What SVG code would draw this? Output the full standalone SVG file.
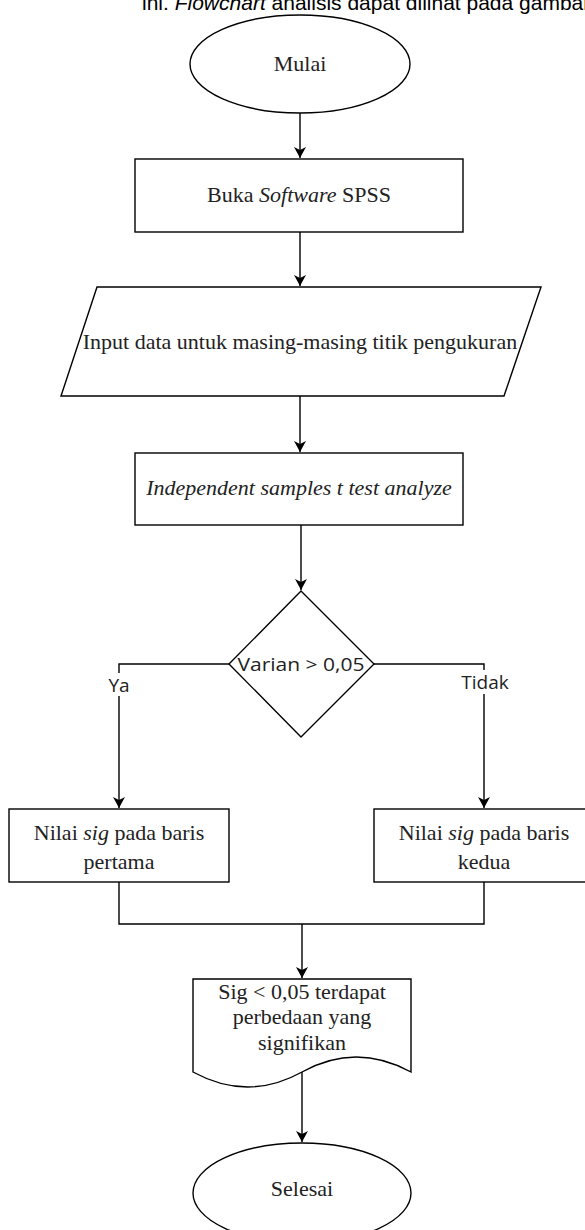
<svg xmlns="http://www.w3.org/2000/svg" width="585" height="1230" viewBox="0 0 585 1230">
<style>
.sh{fill:#fff;stroke:#000;stroke-width:1.4}
.ln{fill:none;stroke:#000;stroke-width:1.4}
.t{font-family:"Liberation Serif","Times New Roman",serif;font-size:22px;fill:#222;text-anchor:middle}
.s{font-family:"Open Sans","Noto Sans",sans-serif;font-size:19px;fill:#222;text-anchor:middle}
.top{font-family:"Liberation Sans",Arial,sans-serif;font-size:21px;fill:#000}
</style>
<defs>
<marker id="ah" markerUnits="userSpaceOnUse" markerWidth="12" markerHeight="12" refX="11" refY="6" orient="auto">
<path d="M0,0 L11,6 L0,12 L3,6 z" fill="#000"/>
</marker>
</defs>
<text class="top" x="142" y="10">ini. <tspan font-style="italic">Flowchart</tspan> analisis dapat dilihat pada gambar</text>
<g id="connectors">
<line class="ln" x1="300" y1="112" x2="300" y2="158" marker-end="url(#ah)"/>
<line class="ln" x1="300" y1="232" x2="300" y2="286" marker-end="url(#ah)"/>
<line class="ln" x1="300" y1="396" x2="300" y2="452" marker-end="url(#ah)"/>
<line class="ln" x1="301" y1="525" x2="301" y2="590" marker-end="url(#ah)"/>
<polyline class="ln" points="229,664 119,664 119,808" marker-end="url(#ah)"/>
<polyline class="ln" points="374,664 484,664 484,808" marker-end="url(#ah)"/>
<polyline class="ln" points="119,882 119,924 484,924 484,882"/>
<line class="ln" x1="302" y1="924" x2="302" y2="978" marker-end="url(#ah)"/>
<line class="ln" x1="302" y1="1072" x2="302" y2="1142" marker-end="url(#ah)"/>
<rect x="104" y="673" width="30" height="23" fill="#fff"/>
<text class="s" x="119" y="692">Ya</text>
<rect x="460" y="670" width="50" height="24" fill="#fff"/>
<text class="s" x="485" y="689">Tidak</text>
</g>
<g id="mulai">
<ellipse class="sh" cx="300" cy="64" rx="110" ry="49"/>
<text class="t" x="300" y="71">Mulai</text>
</g>
<g id="buka">
<rect class="sh" x="135" y="159" width="328" height="73"/>
<text class="t" x="299" y="202">Buka <tspan font-style="italic">Software</tspan> SPSS</text>
</g>
<g id="input">
<polygon class="sh" points="97,287 541,287 504,396 61,396"/>
<text class="t" x="300" y="349">Input data untuk masing-masing titik pengukuran</text>
</g>
<g id="independent">
<rect class="sh" x="135" y="453" width="328" height="72"/>
<text class="t" x="299" y="495" font-style="italic">Independent samples t test analyze</text>
</g>
<g id="varian">
<polygon class="sh" points="301,591 374,664 301,737 229,664"/>
<text class="s" x="301" y="671" font-size="20" textLength="127" lengthAdjust="spacingAndGlyphs">Varian &gt; 0,05</text>
</g>
<g id="pertama">
<rect class="sh" x="9" y="809" width="220" height="73"/>
<text class="t" x="119" y="840">Nilai <tspan font-style="italic">sig</tspan> pada baris</text>
<text class="t" x="119" y="869">pertama</text>
</g>
<g id="kedua">
<rect class="sh" x="374" y="809" width="220" height="73"/>
<text class="t" x="484" y="840">Nilai <tspan font-style="italic">sig</tspan> pada baris</text>
<text class="t" x="484" y="869">kedua</text>
</g>
<g id="hasil">
<path class="sh" d="M193,979 L411,979 L411,1072 Q356,1042 302,1072 Q248,1102 193,1072 Z"/>
<text class="t" x="302" y="999">Sig &lt; 0,05 terdapat</text>
<text class="t" x="302" y="1024">perbedaan yang</text>
<text class="t" x="302" y="1050">signifikan</text>
</g>
<g id="selesai">
<ellipse class="sh" cx="302" cy="1193" rx="109" ry="50"/>
<text class="t" x="302" y="1196">Selesai</text>
</g>
</svg>
